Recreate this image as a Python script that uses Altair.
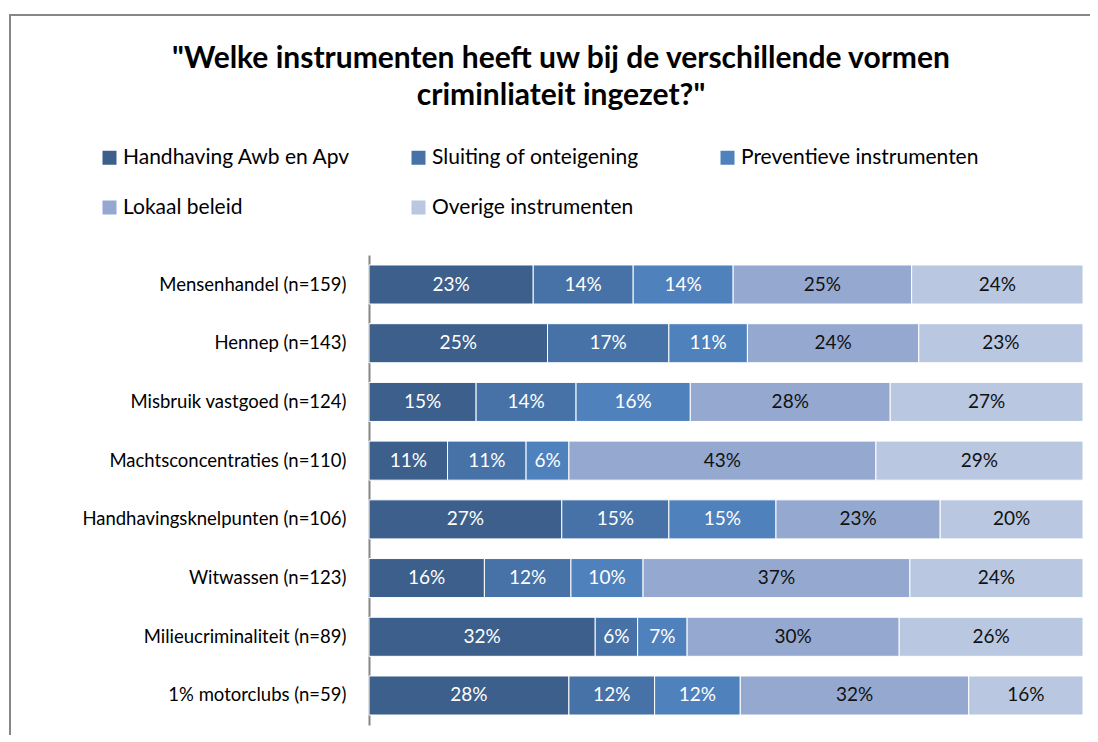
import altair as alt
import pandas as pd

categories = [
    "Mensenhandel (n=159)",
    "Hennep (n=143)",
    "Misbruik vastgoed (n=124)",
    "Machtsconcentraties (n=110)",
    "Handhavingsknelpunten (n=106)",
    "Witwassen (n=123)",
    "Milieucriminaliteit (n=89)",
    "1% motorclubs (n=59)",
]
series = [
    "Handhaving Awb en Apv",
    "Sluiting of onteigening",
    "Preventieve instrumenten",
    "Lokaal beleid",
    "Overige instrumenten",
]
handhaving = [23, 25, 15, 11, 27, 16, 32, 28]
sluiting = [14, 17, 14, 11, 15, 12, 6, 12]
preventief = [14, 11, 16, 6, 15, 10, 7, 12]
lokaal = [25, 24, 28, 43, 23, 37, 30, 32]
overig = [24, 23, 27, 29, 20, 24, 26, 16]
colors = ["#3C5F8C", "#4672A8", "#4F81BD", "#95A9D0", "#B9C7E1"]

rows = []
for si, vals in enumerate([handhaving, sluiting, preventief, lokaal, overig]):
    for ci, v in enumerate(vals):
        rows.append({"row": categories[ci], "series": series[si], "s_idx": si,
                     "value": v, "label": f"{v}%"})
df = pd.DataFrame(rows)

PL, PT = 361, 247  # padding: plot origin at page (369, 255)

base = alt.Chart(df).transform_stack(
    stack="value", groupby=["row"], as_=["x0", "x1"], offset="normalize",
    sort=[alt.SortField("s_idx", order="ascending")]
).transform_calculate(mid="(datum.x0 + datum.x1) / 2")

yenc = alt.Y("row:N", sort=categories, title=None,
             scale=alt.Scale(paddingInner=0.335, paddingOuter=0.17),
             axis=alt.Axis(labelFont="Lato", labelFontSize=18.5, labelColor="#000000",
                           ticks=False, domainColor="#868686", domainWidth=2,
                           labelPadding=23, labelLimit=400))

bars = base.mark_bar(stroke="white", strokeWidth=1).encode(
    y=yenc,
    x=alt.X("x0:Q", axis=None, scale=alt.Scale(domain=[0, 1], nice=False, zero=False)),
    x2="x1:Q",
    color=alt.Color("series:N", sort=series,
                    scale=alt.Scale(domain=series, range=colors),
                    legend=alt.Legend(title=None, orient="none", legendX=-270, legendY=-108,
                                      direction="horizontal",
                                      columns=3, gridAlign="all", columnPadding=47,
                                      rowPadding=28, symbolType="square", symbolSize=196,
                                      symbolStrokeWidth=0, labelFont="Lato", labelFontSize=21,
                                      labelColor="#000000", labelOffset=3, labelLimit=400,
                                      padding=0)),
)

text_white = base.transform_filter("datum.s_idx < 3").mark_text(
    font="Lato", fontSize=19, color="white").encode(
    y=alt.Y("row:N", sort=categories), x=alt.X("mid:Q"), text="label:N")
text_dark = base.transform_filter("datum.s_idx >= 3").mark_text(
    font="Lato", fontSize=19, color="#111111").encode(
    y=alt.Y("row:N", sort=categories), x=alt.X("mid:Q"), text="label:N")

frame = alt.Chart(pd.DataFrame({"f": [0]})).mark_rect(
    fillOpacity=0, stroke="#878787", strokeWidth=2).encode(
    x=alt.value(10 - 369), x2=alt.value(1120 - 369),
    y=alt.value(15 - 255), y2=alt.value(760 - 255))

chart = alt.layer(frame, bars, text_white, text_dark).properties(
    width=714, height=470,
    padding={"left": PL, "top": PT, "right": 7, "bottom": 10},
    autosize=alt.AutoSizeParams(type="none"),
    title=alt.TitleParams(
        text=["\"Welke instrumenten heeft uw bij de verschillende vormen",
              "criminliateit ingezet?\""],
        font="Lato", fontSize=30, fontWeight="bold", color="#000000",
        anchor="middle", frame="group", dx=-165, offset=-97, lineHeight=37),
).configure_view(stroke=None)

chart.save("out.html", embed_options={"renderer": "svg", "actions": False})
